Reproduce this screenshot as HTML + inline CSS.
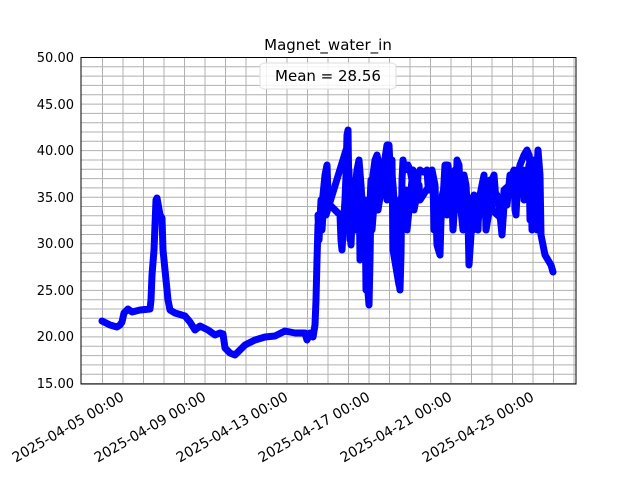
<!DOCTYPE html>
<html><head><style>body{margin:0;background:#fff}svg text{font-family:"DejaVu Sans","Liberation Sans",sans-serif}</style></head>
<body>
<svg width="640" height="480" xmlns="http://www.w3.org/2000/svg">
<rect width="640" height="480" fill="#fff"/>
<g stroke="#b0b0b0" stroke-width="1">
<path id="hg" d=""/>
</g>
<script>
var s='';
for(var i=0;i<=35;i++){var y=57.5+i*326/35;s+='M81,'+y.toFixed(1)+'H576';}
for(var d=-1;d<24;d++){var x=123+d*20.5;if(x>81&&x<576)s+='M'+x.toFixed(1)+',57.5V384';}
document.getElementById('hg').setAttribute('d',s);
</script>
<g fill="none" stroke="#0000ff" stroke-width="7" stroke-linejoin="round" stroke-linecap="round">
<polyline points="102,321 110,325 117,327 120,325 122,322 124,313 128,309 132,312 140,310 150,309 151,300 152,275 154,250 156,200 157,198 160,215 162,218 163,250 165,270 168,300 170,310 175,313 185,316 190,322 195,330 200,326 208,330 215,335 220,333 223,334 225,348 230,353 235,355 240,350 245,345 255,340 265,337 275,336 285,331 295,333 305,333 307,340 310,333 313,337 315,325 316,300 317,260 318,225 321,210 323,195 325,175 327,165 328,195 330,205 335,210 340,215 341,240 342,250 344,215 345,200 346,175 347,135 348,130 349,200 350,225 351,245 352,220 353,210 355,190 357,170 359,160 361,185 362,200 363,225 365,245 367,280 369,305 370,260 371,200 373,175 375,160 377,155 379,165 381,175 384,165 387,145 389,145 390,165 392,175 393,185 395,215 398,275 400,290 401,255 402,180 403,160 405,170 408,165 410,170 412,180 415,190 417,200 418,175 420,170 423,172 425,172 427,170 428,185 429,190 430,190 432,170 435,185 437,245 440,255 441,220 443,200 445,165 448,165 449,175 452,200 453,230 455,200 456,195 457,160 459,165 461,210 463,230 464,175 466,185 468,220 469,265 471,235 472,200 474,195 476,225 478,230 479,200 482,185 484,175 486,220 487,220 489,190 490,180 492,180 494,175 496,200 497,195 500,215 502,235 504,205 507,205 510,175 512,175 514,170 515,210 516,215 518,175 520,165 522,160 524,155 527,150 529,155 531,175 532,230 533,160 535,215 538,150 540,175 541,235 543,245 545,255 548,260 551,265 553,272"/>
<polyline points="318,215 319,240 321,200 322,230 325,180 326,215 346,150 347,215 349,170 350,240 355,180 356,230 359,170 360,260 365,200 366,290 371,180 372,230 377,165 378,210 386,160 387,200 392,160 393,250 399,285 400,200 406,190 407,230 413,170 414,210 419,185 420,200 433,180 434,230 446,180 447,215 455,170 456,205 462,180 463,220 472,210 473,230 477,200 478,220 485,190 486,230 491,200 492,210 503,220 504,190 515,180 516,200 523,170 524,200 529,165 530,220 536,170 537,230"/>
</g>
<rect x="81" y="57.5" width="495" height="326.5" fill="none" stroke="#000" stroke-width="1"/>
<g stroke="#000" stroke-width="1" id="ticks"></g>
<script>
var t='',g=document.getElementById('ticks');
for(var i=0;i<=35;i++){var y=57.5+i*326/35;var L=(i%5==0)?4:2;t+='M81,'+y.toFixed(1)+'h'+L;}
for(var d=0;d<6;d++){var x=123+d*82;t+='M'+x+',384v-4';}
g.innerHTML='<path d="'+t+'"/>';
</script>
<g font-size="13" text-anchor="end" fill="#000">
<text x="74" y="62">50.00</text><text x="74" y="109">45.00</text><text x="74" y="155">40.00</text><text x="74" y="202">35.00</text><text x="74" y="248">30.00</text><text x="74" y="295">25.00</text><text x="74" y="341">20.00</text><text x="74" y="388">15.00</text>
</g>
<g font-size="14" text-anchor="end" fill="#000">
<text transform="translate(120,391) rotate(-30)" dy="10">2025-04-05 00:00</text>
<text transform="translate(202,391) rotate(-30)" dy="10">2025-04-09 00:00</text>
<text transform="translate(284,391) rotate(-30)" dy="10">2025-04-13 00:00</text>
<text transform="translate(366,391) rotate(-30)" dy="10">2025-04-17 00:00</text>
<text transform="translate(448,391) rotate(-30)" dy="10">2025-04-21 00:00</text>
<text transform="translate(530,391) rotate(-30)" dy="10">2025-04-25 00:00</text>
</g>
<text x="328" y="50" font-size="15" text-anchor="middle">Magnet_water_in</text>
<rect x="260" y="63" width="136" height="26" rx="4" fill="#fff" fill-opacity="0.85" stroke="#ddd"/>
<text x="328" y="81" font-size="15" text-anchor="middle">Mean = 28.56</text>
</svg>
</body></html>
